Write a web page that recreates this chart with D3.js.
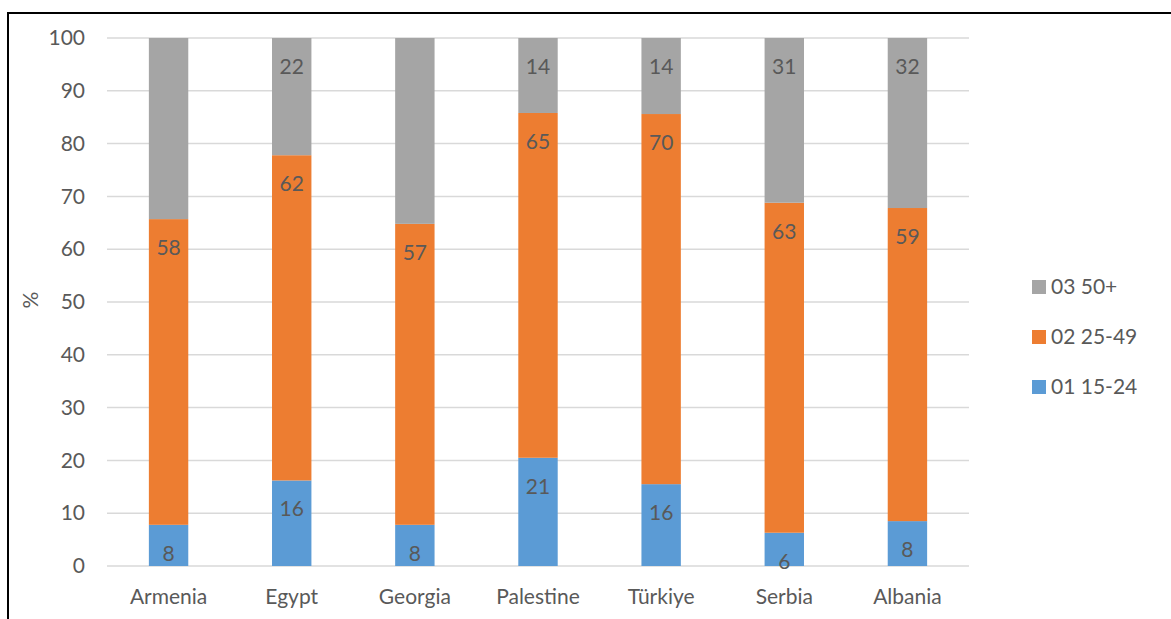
<!DOCTYPE html>
<html>
<head>
<meta charset="utf-8">
<script src="https://cdn.jsdelivr.net/npm/d3@7"></script>
<style>
  body { margin: 0; background: #fff; }
  text { font-family: Lato, "Open Sans", sans-serif; fill: #595959; }
</style>
</head>
<body>
<div id="chart"></div>
<script>
const countries = ['Armenia', 'Egypt', 'Georgia', 'Palestine', 'Türkiye', 'Serbia', 'Albania'];
const young = [7.8, 16.2, 7.8, 20.5, 15.5, 6.3, 8.5];
const middle = [57.9, 61.6, 57.0, 65.3, 70.1, 62.5, 59.3];
const older = [34.3, 22.2, 35.2, 14.2, 14.4, 31.2, 32.2];
// Excel only labelled the grey segment on some bars
const youngLabels = [8, 16, 8, 21, 16, 6, 8];
const middleLabels = [58, 62, 57, 65, 70, 63, 59];
const olderLabels = [null, 22, null, 14, 14, 31, 32];
const yTicks = [0, 10, 20, 30, 40, 50, 60, 70, 80, 90, 100];

const seriesNames = ['01 15-24', '02 25-49', '03 50+'];
const colors = ['#5b9bd5', '#ed7d31', '#a5a5a5'];

const width = 1171, height = 619;
const margin = { top: 38, bottom: 53, left: 107, right: 202 };

const svg = d3.select('#chart')
  .append('svg')
  .attr('width', width)
  .attr('height', height);

// frame (no right / bottom edge visible in the source)
svg.append('path')
  .attr('d', `M8,${height} L8,13 L${width},13`)
  .attr('fill', 'none')
  .attr('stroke', '#000')
  .attr('stroke-width', 2);

const x = d3.scaleBand()
  .domain(countries)
  .range([margin.left, width - margin.right])
  .paddingInner(0.68)
  .paddingOuter(0.34);

const y = d3.scaleLinear()
  .domain([0, 100])
  .range([height - margin.bottom, margin.top]);

// gridlines
svg.append('g')
  .selectAll('line')
  .data(yTicks)
  .join('line')
  .attr('x1', margin.left)
  .attr('x2', width - margin.right)
  .attr('y1', d => y(d))
  .attr('y2', d => y(d))
  .attr('stroke', '#d9d9d9')
  .attr('stroke-width', 1.5);

const table = countries.map((c, i) => ({
  country: c,
  s0: young[i], s1: middle[i], s2: older[i],
  l0: youngLabels[i], l1: middleLabels[i], l2: olderLabels[i]
}));

const stack = d3.stack().keys(['s0', 's1', 's2']);
const layers = stack(table);

layers.forEach((layer, k) => {
  const g = svg.append('g');
  g.selectAll('rect')
    .data(layer)
    .join('rect')
    .attr('x', d => x(d.data.country))
    .attr('y', d => y(d[1]))
    .attr('width', x.bandwidth())
    .attr('height', d => y(d[0]) - y(d[1]))
    .attr('fill', colors[k]);

  g.selectAll('text')
    .data(layer.filter(d => d.data['l' + k] != null))
    .join('text')
    .attr('x', d => x(d.data.country) + x.bandwidth() / 2)
    .attr('y', d => y(d[1]) + 36)
    .attr('text-anchor', 'middle')
    .attr('font-size', 21)
    .text(d => d.data['l' + k]);
});

// y axis labels
const yAxis = g => {
  g.attr('transform', `translate(${margin.left}, 0)`)
    .call(d3.axisLeft(y).tickValues(yTicks).tickSize(0).tickPadding(22))
    .attr('font-size', 21);
  g.select('.domain').remove();
  g.selectAll('text').style('fill', '#595959').attr('font-family', 'Lato, sans-serif');
};
svg.append('g').call(yAxis);

// x axis labels
const xAxis = g => {
  g.attr('transform', `translate(0, ${height - margin.bottom})`)
    .call(d3.axisBottom(x).tickSize(0).tickPadding(23))
    .attr('font-size', 21);
  g.select('.domain').remove();
  g.selectAll('text').style('fill', '#595959').attr('font-family', 'Lato, sans-serif');
};
svg.append('g').call(xAxis);

svg.append('text')
  .attr('transform', 'translate(38, 300) rotate(-90)')
  .attr('text-anchor', 'middle')
  .attr('font-size', 21)
  .text('%');

// legend, top entry is the last series
const legend = svg.append('g').attr('transform', 'translate(1032, 280)');
const order = [2, 1, 0];
order.forEach((k, i) => {
  const row = legend.append('g').attr('transform', `translate(0, ${i * 50})`);
  row.append('rect')
    .attr('width', 14)
    .attr('height', 14)
    .attr('fill', colors[k]);
  row.append('text')
    .attr('x', 19)
    .attr('y', 14)
    .attr('font-size', 21)
    .text(seriesNames[k]);
});
</script>
</body>
</html>
